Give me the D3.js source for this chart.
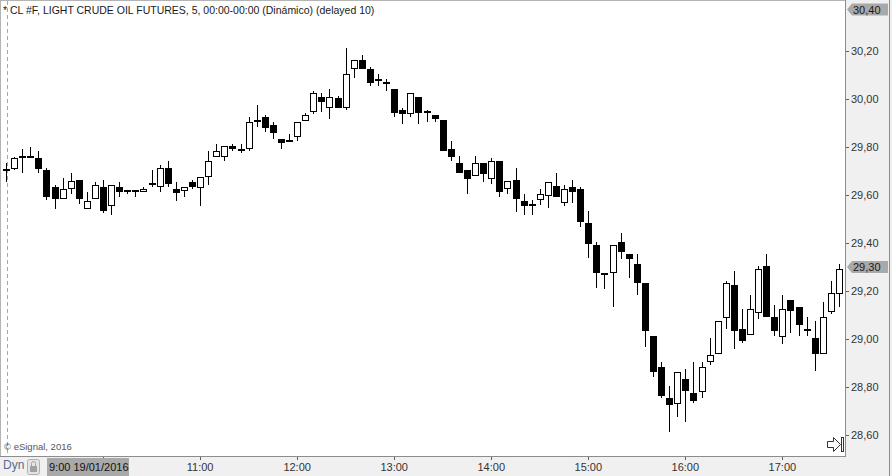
<html lang="es">
	<head>
		<title>CL #F candles</title>
		<script src='https://d3js.org/d3.v7.min.js'></script>
		<style>
			body { margin: 0; background: #ffffff; }
			text { font-family: "Liberation Sans", Arial, sans-serif; }
		</style>
	</head>
	<body onload='init()'>
		<svg id="svgChart" width=892 height=476></svg>
	</body>
	<script>
		// 5 minute bars, 19/01/2016 from 9:00
		var startTime = new Date(2016, 0, 19, 9, 0);
		var barMinutes = 5;

		var opens = [29.708, 29.708, 29.762, 29.762, 29.754, 29.704, 29.633, 29.583, 29.625, 29.663,
			29.542, 29.583, 29.633, 29.554, 29.633, 29.617, 29.617, 29.613, 29.646, 29.633,
			29.713, 29.625, 29.617, 29.654, 29.629, 29.675, 29.758, 29.758, 29.804, 29.792,
			29.792, 29.913, 29.925, 29.892, 29.833, 29.825, 29.842, 29.908, 29.946, 30.008,
			29.963, 30.004, 29.963, 30.125, 30.163, 30.125, 30.083, 30.067, 30.042, 29.954,
			29.938, 30.008, 29.946, 29.933, 29.913, 29.792, 29.733, 29.704, 29.679, 29.733,
			29.667, 29.742, 29.625, 29.663, 29.575, 29.563, 29.579, 29.596, 29.638, 29.567,
			29.633, 29.625, 29.483, 29.392, 29.267, 29.275, 29.404, 29.354, 29.313, 29.233,
			29.013, 28.883, 28.754, 28.729, 28.833, 28.775, 28.779, 28.904, 28.938, 29.088,
			29.225, 29.042, 29.017, 29.108, 29.304, 29.092, 29.008, 29.163, 29.133, 29.042,
			29.004, 28.938, 29.113, 29.188];
		var highs = [29.733, 29.758, 29.790, 29.800, 29.783, 29.712, 29.642, 29.671, 29.692, 29.663,
			29.613, 29.654, 29.663, 29.642, 29.654, 29.621, 29.621, 29.633, 29.704, 29.725,
			29.742, 29.654, 29.633, 29.663, 29.675, 29.783, 29.813, 29.804, 29.813, 29.813,
			29.925, 29.975, 29.933, 29.904, 29.833, 29.854, 29.904, 29.942, 30.033, 30.025,
			30.042, 30.013, 30.213, 30.163, 30.183, 30.133, 30.104, 30.083, 30.042, 29.963,
			30.025, 30.008, 29.954, 29.933, 29.913, 29.825, 29.763, 29.704, 29.763, 29.733,
			29.754, 29.742, 29.658, 29.713, 29.604, 29.579, 29.625, 29.654, 29.692, 29.642,
			29.663, 29.633, 29.533, 29.404, 29.275, 29.392, 29.442, 29.354, 29.354, 29.233,
			29.013, 28.904, 28.804, 28.863, 28.875, 28.904, 28.904, 29.004, 29.075, 29.242,
			29.283, 29.125, 29.183, 29.304, 29.354, 29.142, 29.183, 29.163, 29.133, 29.092,
			29.075, 29.154, 29.242, 29.313];
		var lows = [29.654, 29.704, 29.690, 29.755, 29.692, 29.579, 29.542, 29.583, 29.604, 29.563,
			29.542, 29.583, 29.525, 29.517, 29.592, 29.604, 29.592, 29.613, 29.633, 29.613,
			29.633, 29.575, 29.592, 29.625, 29.554, 29.642, 29.758, 29.742, 29.783, 29.775,
			29.783, 29.883, 29.863, 29.833, 29.792, 29.821, 29.825, 29.908, 29.938, 29.946,
			29.917, 29.963, 29.954, 30.088, 30.125, 30.054, 30.054, 30.033, 29.925, 29.896,
			29.925, 29.896, 29.904, 29.904, 29.783, 29.742, 29.692, 29.604, 29.679, 29.654,
			29.646, 29.592, 29.604, 29.529, 29.517, 29.517, 29.558, 29.546, 29.592, 29.554,
			29.567, 29.467, 29.338, 29.213, 29.208, 29.133, 29.333, 29.254, 29.183, 28.967,
			28.842, 28.754, 28.613, 28.675, 28.654, 28.733, 28.754, 28.892, 28.938, 29.042,
			28.958, 28.983, 29.017, 29.083, 29.092, 29.013, 28.979, 29.025, 29.013, 29.013,
			28.867, 28.938, 29.104, 29.133];
		var closes = [29.704, 29.754, 29.758, 29.758, 29.708, 29.592, 29.583, 29.625, 29.658, 29.583,
			29.575, 29.642, 29.533, 29.642, 29.613, 29.613, 29.613, 29.625, 29.642, 29.713,
			29.646, 29.608, 29.633, 29.633, 29.675, 29.742, 29.783, 29.804, 29.792, 29.783,
			29.904, 29.904, 29.879, 29.858, 29.817, 29.821, 29.904, 29.933, 30.025, 29.988,
			30.008, 29.963, 30.104, 30.163, 30.125, 30.067, 30.079, 30.063, 29.942, 29.938,
			30.025, 29.942, 29.942, 29.917, 29.783, 29.758, 29.692, 29.667, 29.733, 29.688,
			29.742, 29.613, 29.658, 29.583, 29.554, 29.554, 29.604, 29.654, 29.592, 29.625,
			29.613, 29.488, 29.396, 29.275, 29.275, 29.392, 29.363, 29.333, 29.233, 29.033,
			28.863, 28.763, 28.725, 28.863, 28.783, 28.742, 28.883, 28.933, 29.075, 29.233,
			29.033, 28.992, 29.125, 29.292, 29.092, 29.033, 29.125, 29.117, 29.058, 29.033,
			28.938, 29.092, 29.192, 29.290];

		// price scale and time scale labels
		var priceTicks = [28.6, 28.8, 29.0, 29.2, 29.4, 29.6, 29.8, 30.0, 30.2];
		var hourTicks = [10, 11, 12, 13, 14, 15, 16, 17];
		var hourLabels = ["", "11:00", "12:00", "13:00", "14:00", "15:00", "16:00", "17:00"];
		var topTag = 30.4;
		var lastTag = 29.3;

		var titleText = "* CL #F, LIGHT CRUDE OIL FUTURES, 5, 00:00-00:00 (Dinámico) (delayed 10)";

		var commaFmt = function(v) { return d3.format(".2f")(v).replace(".", ","); };

		function init() {
			var svg = d3.select("#svgChart");

			var bars = opens.map(function(o, i) {
				return {
					t: new Date(startTime.getTime() + i * barMinutes * 60000),
					o: o, h: highs[i], l: lows[i], c: closes[i]
				};
			});

			var xScale = d3.scaleTime()
				.domain([startTime, bars[bars.length - 1].t])
				.range([6, 839]);
			var yScale = d3.scaleLinear().domain([28.6, 30.4]).range([435, 3]);

			// body height in pixels, used to decide between a box and a flat bar
			var bodyPx = function(d) { return yScale(Math.min(d.o, d.c)) - yScale(Math.max(d.o, d.c)); };

			// plot frame
			svg.append("rect")
				.attr("x", 0.5).attr("y", 0.5)
				.attr("width", 845).attr("height", 456)
				.attr("fill", "#ffffff")
				.attr("stroke", "#b4b4b4");

			// session start line
			svg.append("line")
				.attr("x1", 7.5).attr("x2", 7.5)
				.attr("y1", 1).attr("y2", 456)
				.attr("stroke", "#a8a8a8")
				.attr("stroke-dasharray", "4,3");

			// right price panel
			svg.append("rect")
				.attr("x", 846).attr("y", 0)
				.attr("width", 46).attr("height", 476)
				.attr("fill", "#f0f0f0");
			// bottom time panel
			svg.append("rect")
				.attr("x", 0).attr("y", 457)
				.attr("width", 892).attr("height", 19)
				.attr("fill", "#f0f0f0");
			svg.append("line")
				.attr("x1", 845.5).attr("x2", 845.5)
				.attr("y1", 0).attr("y2", 457)
				.attr("stroke", "#8c8c8c");
			svg.append("line")
				.attr("x1", 0).attr("x2", 846)
				.attr("y1", 456.5).attr("y2", 456.5)
				.attr("stroke", "#8c8c8c");
			svg.append("line")
				.attr("x1", 889.5).attr("x2", 889.5)
				.attr("y1", 0).attr("y2", 476)
				.attr("stroke", "#8c8c8c");

			// candles
			var g = svg.append("g").attr("shape-rendering", "crispEdges");
			var candle = g.selectAll(".candle")
				.data(bars)
				.enter()
				.append("g")
				.attr("class", "candle");

			candle.append("line")
				.attr("x1", function(d) { return Math.round(xScale(d.t)) + 0.5; })
				.attr("x2", function(d) { return Math.round(xScale(d.t)) + 0.5; })
				.attr("y1", function(d) { return yScale(d.h); })
				.attr("y2", function(d) { return yScale(d.l); })
				.attr("stroke", "#000000");

			candle.append("rect")
				.attr("x", function(d) {
					return Math.round(xScale(d.t)) - (bodyPx(d) < 2 ? 3 : 2.5);
				})
				.attr("y", function(d) {
					var top = yScale(Math.max(d.o, d.c));
					var h = bodyPx(d);
					return h < 2 ? (top + h / 2 - 1) : top + 0.5;
				})
				.attr("width", function(d) { return bodyPx(d) < 2 ? 7 : 6; })
				.attr("height", function(d) { return bodyPx(d) < 2 ? 2 : bodyPx(d) - 1; })
				.attr("stroke", function(d) { return bodyPx(d) < 2 ? "none" : "#000000"; })
				.attr("fill", function(d) {
					if (bodyPx(d) < 2) return "#000000";
					return d.c >= d.o ? "#ffffff" : "#000000";
				});

			// price axis on the right
			var py = svg.append("g");
			py.selectAll(".ptick")
				.data(priceTicks)
				.enter()
				.append("line")
				.attr("x1", 846).attr("x2", 849)
				.attr("y1", function(d) { return Math.round(yScale(d)) + 0.5; })
				.attr("y2", function(d) { return Math.round(yScale(d)) + 0.5; })
				.attr("stroke", "#606060");
			py.selectAll(".plabel")
				.data(priceTicks)
				.enter()
				.append("text")
				.attr("x", 851)
				.attr("y", function(d) { return yScale(d) + 4; })
				.attr("font-size", "11px")
				.attr("fill", "#333333")
				.text(commaFmt);

			// price tags (top of scale and last price)
			var tags = [{ v: topTag, y: 9.5 }, { v: lastTag, y: yScale(lastTag) }];
			tags.forEach(function(tg) {
				svg.append("path")
					.attr("d", "M847," + tg.y + " L852," + (tg.y - 6) + " L888," + (tg.y - 6) +
						" L888," + (tg.y + 6) + " L852," + (tg.y + 6) + " Z")
					.attr("fill", "#a9a9a9");
				svg.append("text")
					.attr("x", 853)
					.attr("y", tg.y + 4)
					.attr("font-size", "11px")
					.attr("fill", "#1a1a1a")
					.text(commaFmt(tg.v));
			});

			// time axis at the bottom
			var hourDate = function(h) { return new Date(2016, 0, 19, h, 0); };
			svg.selectAll(".ttick")
				.data(hourTicks)
				.enter()
				.append("line")
				.attr("x1", function(d) { return Math.round(xScale(hourDate(d))) + 0.5; })
				.attr("x2", function(d) { return Math.round(xScale(hourDate(d))) + 0.5; })
				.attr("y1", 457).attr("y2", 460)
				.attr("stroke", "#606060");
			svg.selectAll(".tlabel")
				.data(hourTicks)
				.enter()
				.append("text")
				.attr("x", function(d) { return xScale(hourDate(d)); })
				.attr("y", 471)
				.attr("text-anchor", "middle")
				.attr("font-size", "11px")
				.attr("fill", "#333333")
				.text(function(d, i) { return hourLabels[i]; });

			// start date box
			svg.append("rect")
				.attr("x", 47).attr("y", 458)
				.attr("width", 82).attr("height", 18)
				.attr("fill", "#a9a9a9");
			svg.append("text")
				.attr("x", 49).attr("y", 471)
				.attr("font-size", "11px")
				.attr("fill", "#111111")
				.text("9:00 19/01/2016");
			svg.append("text")
				.attr("x", 3).attr("y", 469)
				.attr("font-size", "12px")
				.attr("fill", "#5b6c8f")
				.text("Dyn");
			// lock button
			svg.append("rect")
				.attr("x", 27.5).attr("y", 459.5)
				.attr("width", 12).attr("height", 15)
				.attr("rx", 2)
				.attr("fill", "#e4e4e4")
				.attr("stroke", "#b0b0b0");
			svg.append("rect")
				.attr("x", 30).attr("y", 466)
				.attr("width", 7).attr("height", 6)
				.attr("fill", "#a0a0a0");
			svg.append("path")
				.attr("d", "M31.5,466 V463.5 A2,2 0 0 1 35.5,463.5 V466")
				.attr("fill", "none")
				.attr("stroke", "#a0a0a0");

			// title and copyright
			svg.append("text")
				.attr("x", 3).attr("y", 14)
				.attr("font-size", "10.5px")
				.attr("fill", "#1a1a1a")
				.text(titleText);
			svg.append("text")
				.attr("x", 4).attr("y", 450)
				.attr("font-size", "9.5px")
				.attr("fill", "#555555")
				.text("\u00a9 eSignal, 2016");

			// scroll-to-end button
			svg.append("path")
				.attr("d", "M827.5,441.5 H833.5 V437.5 L840.5,444.5 L833.5,451.5 V447.5 H827.5 Z")
				.attr("fill", "#ffffff")
				.attr("stroke", "#333333");
			svg.append("rect")
				.attr("x", 841.5).attr("y", 437.5)
				.attr("width", 2).attr("height", 14)
				.attr("fill", "#ffffff")
				.attr("stroke", "#333333");
		}
	</script>
</html>
